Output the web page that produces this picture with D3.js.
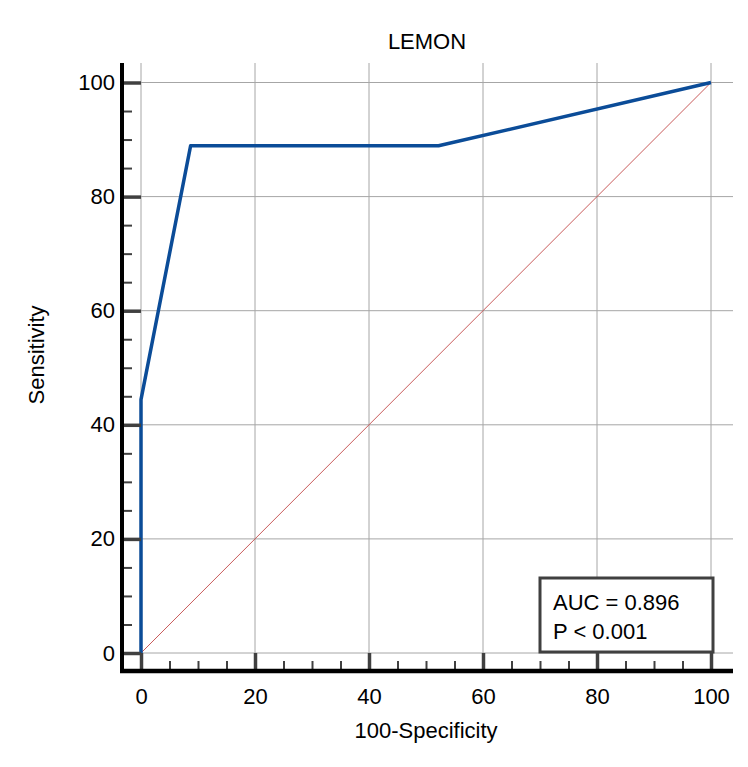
<!DOCTYPE html>
<html>
<head>
<meta charset="utf-8">
<script src="https://cdn.jsdelivr.net/npm/d3@7"></script>
<style>
  body { margin: 0; background: #fff; }
  text { font-family: Arial, "Liberation Sans", sans-serif; fill: #000; }
</style>
</head>
<body>
<div id="chart"></div>
<script>
// data
const title = "LEMON"
const xLabel = "100-Specificity"
const yLabel = "Sensitivity"
const fpr = [0, 0, 8.7, 52.2, 100]
const tpr = [0, 44.4, 88.9, 88.9, 100]
const majorTicks = [0, 20, 40, 60, 80, 100]
const minorTicks = [5, 10, 15, 25, 30, 35, 45, 50, 55, 65, 70, 75, 85, 90, 95]
const legendLines = ["AUC = 0.896", "P < 0.001"]

const width = 748
const height = 767

const svg = d3.select("#chart")
  .append("svg")
  .attr("width", width)
  .attr("height", height)

const x = d3.scaleLinear().domain([0, 100]).range([141, 711])
const y = d3.scaleLinear().domain([0, 100]).range([653, 82.5])

// frame bounds
const frameLeft = 122, frameRight = 733, frameTop = 63, frameBottom = 671

// grid
svg.append("g")
  .selectAll("line")
  .data(majorTicks)
  .join("line")
    .attr("x1", d => x(d)).attr("x2", d => x(d))
    .attr("y1", frameTop).attr("y2", y(0))
    .attr("stroke", "#a6a6a6").attr("stroke-width", 1)
svg.append("g")
  .selectAll("line")
  .data(majorTicks)
  .join("line")
    .attr("x1", x(0)).attr("x2", frameRight)
    .attr("y1", d => y(d)).attr("y2", d => y(d))
    .attr("stroke", "#a6a6a6").attr("stroke-width", 1)

// diagonal reference
svg.append("line")
  .attr("x1", x(0)).attr("y1", y(0))
  .attr("x2", x(100)).attr("y2", y(100))
  .attr("stroke", "#c85a5a").attr("stroke-width", 1)

// ROC curve
const line = d3.line().x((d, i) => x(fpr[i])).y(d => y(d))
svg.append("path")
  .datum(tpr)
  .attr("d", line)
  .attr("fill", "none")
  .attr("stroke", "#0b4c98")
  .attr("stroke-width", 3.5)
  .attr("stroke-linejoin", "round")

// y axis
const yAxis = svg.append("g")
  .attr("transform", `translate(${frameLeft + 2},0)`)
  .call(d3.axisLeft(y).tickValues(majorTicks).tickSize(-(x(0) - frameLeft - 2)).tickPadding(9))
yAxis.select(".domain").remove()
yAxis.selectAll(".tick line").attr("stroke", "#404040").attr("stroke-width", 3.5)
yAxis.selectAll(".tick text").style("font-size", "22px").attr("fill", "#000")

const yMinor = svg.append("g")
  .attr("transform", `translate(${frameLeft + 2},0)`)
  .call(d3.axisLeft(y).tickValues(minorTicks).tickSize(-8).tickFormat(""))
yMinor.select(".domain").remove()
yMinor.selectAll(".tick line").attr("stroke", "#404040").attr("stroke-width", 2)

// x axis
const xAxis = svg.append("g")
  .attr("transform", `translate(0,${frameBottom - 2})`)
  .call(d3.axisBottom(x).tickValues(majorTicks).tickSize(-(frameBottom - 2 - y(0))).tickPadding(19.5))
xAxis.select(".domain").remove()
xAxis.selectAll(".tick line").attr("stroke", "#404040").attr("stroke-width", 3.5)
xAxis.selectAll(".tick text").style("font-size", "22px").attr("fill", "#000")

const xMinor = svg.append("g")
  .attr("transform", `translate(0,${frameBottom - 2})`)
  .call(d3.axisBottom(x).tickValues(minorTicks).tickSize(-8).tickFormat(""))
xMinor.select(".domain").remove()
xMinor.selectAll(".tick line").attr("stroke", "#404040").attr("stroke-width", 2)

// axis lines
svg.append("line")
  .attr("x1", frameLeft).attr("x2", frameLeft)
  .attr("y1", frameTop).attr("y2", frameBottom + 2)
  .attr("stroke", "#000").attr("stroke-width", 4)
svg.append("line")
  .attr("x1", frameLeft - 2).attr("x2", frameRight)
  .attr("y1", frameBottom).attr("y2", frameBottom)
  .attr("stroke", "#000").attr("stroke-width", 4.5)

// titles
svg.append("text")
  .attr("x", 427).attr("y", 49)
  .attr("text-anchor", "middle")
  .style("font-size", "22px")
  .text(title)
svg.append("text")
  .attr("x", 426).attr("y", 738)
  .attr("text-anchor", "middle")
  .style("font-size", "22px")
  .text(xLabel)
svg.append("text")
  .attr("transform", "translate(44,355) rotate(-90)")
  .attr("text-anchor", "middle")
  .style("font-size", "22px")
  .text(yLabel)

// AUC box
svg.append("rect")
  .attr("x", 540).attr("y", 578)
  .attr("width", 173).attr("height", 74)
  .attr("fill", "#fff")
  .attr("stroke", "#404040").attr("stroke-width", 3)
svg.append("g")
  .selectAll("text")
  .data(legendLines)
  .join("text")
    .attr("x", 553)
    .attr("y", (d, i) => 610 + i * 29)
    .style("font-size", "22px")
    .text(d => d)
</script>
</body>
</html>
